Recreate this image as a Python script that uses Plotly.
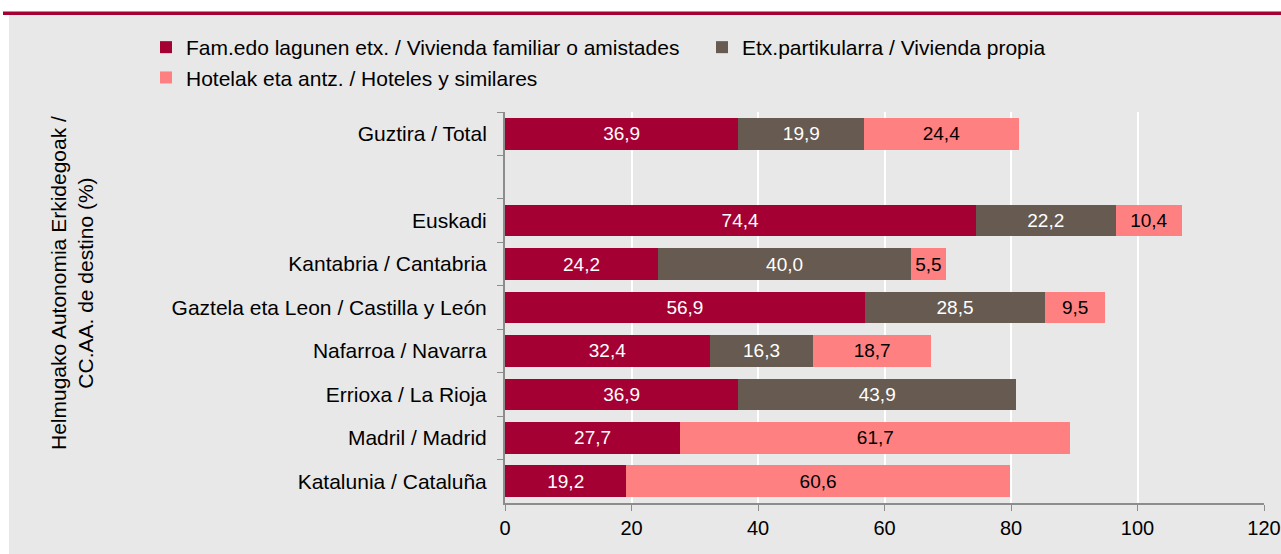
import plotly.graph_objects as go

categories = ["Guztira / Total", " ", "Euskadi", "Kantabria / Cantabria",
              "Gaztela eta Leon / Castilla y León", "Nafarroa / Navarra",
              "Errioxa / La Rioja", "Madril / Madrid", "Katalunia / Cataluña"]
familiar = [36.9, None, 74.4, 24.2, 56.9, 32.4, 36.9, 27.7, 19.2]
propia = [19.9, None, 22.2, 40.0, 28.5, 16.3, 43.9, None, None]
hoteles = [24.4, None, 10.4, 5.5, 9.5, 18.7, None, 61.7, 60.6]
x_ticks = [0, 20, 40, 60, 80, 100, 120]

FONT = "Liberation Sans, Arial, sans-serif"
W, H = 1281, 554
L, R, T, B = 505, 17, 112, 51
pw, ph = W - L - R, H - T - B


def px_x(p):
    return (p - L) / pw


def px_y(p):
    return (H - B - p) / ph


series = [
    ("Fam.edo lagunen etx. / Vivienda familiar o amistades", familiar, "#a50034", "white"),
    ("Etx.partikularra / Vivienda propia", propia, "#675a50", "white"),
    ("Hotelak eta antz. / Hoteles y similares", hoteles, "#ff8080", "black"),
]

fig = go.Figure()
for name, vals, col, tcol in series:
    fig.add_trace(go.Bar(
        y=categories, x=vals, name=name, orientation="h",
        marker=dict(color=col, line=dict(width=0)),
        texttemplate="%{x:.1f}", textposition="inside", insidetextanchor="middle",
        textfont=dict(color=tcol, size=19, family=FONT),
        constraintext="none", cliponaxis=False,
    ))

shapes = [
    dict(type="rect", xref="paper", yref="paper", layer="below",
         x0=px_x(9), x1=px_x(W + 5), y0=px_y(H + 5), y1=px_y(15),
         fillcolor="#e8e8e8", line=dict(width=0)),
    dict(type="rect", xref="paper", yref="paper", layer="below",
         x0=px_x(3), x1=px_x(W + 5), y0=px_y(15), y1=px_y(11.5),
         fillcolor="#a50034", line=dict(width=0)),
]

fig.update_layout(
    width=W, height=H,
    margin=dict(l=L, r=R, t=T, b=B, autoexpand=False),
    paper_bgcolor="white", plot_bgcolor="#e8e8e8",
    barmode="stack", bargap=0.27,
    separators=",.",
    font=dict(family=FONT, size=21, color="black"),
    shapes=shapes,
    legend=dict(orientation="h", x=px_x(146), xanchor="left",
                y=px_y(27), yanchor="top", traceorder="normal",
                entrywidth=511, entrywidthmode="pixels",
                font=dict(size=21), bgcolor="rgba(0,0,0,0)",
                itemwidth=30, tracegroupgap=0),
    annotations=[dict(
        text="Helmugako Autonomia Erkidegoak /<br>CC.AA. de destino (%)",
        xref="paper", yref="paper", x=px_x(72), y=px_y(283),
        textangle=-90, showarrow=False, font=dict(size=21),
        xanchor="center", yanchor="middle")],
    showlegend=True,
)
fig.update_xaxes(range=[0, 120], tickvals=x_ticks, showgrid=True,
                 gridcolor="white", gridwidth=1.5, zeroline=False,
                 showline=True, linecolor="#8c8c8c", linewidth=2,
                 ticks="outside", tickcolor="#8c8c8c", ticklen=6,
                 tickfont=dict(size=20), automargin=False,
                 ticklabeloverflow="allow")
fig.update_yaxes(categoryorder="array", categoryarray=categories,
                 autorange="reversed", showgrid=False,
                 showline=True, linecolor="#8c8c8c", linewidth=2,
                 ticks="outside", tickson="boundaries", tickcolor="#8c8c8c",
                 ticklen=6, ticklabelstandoff=12, tickfont=dict(size=21),
                 automargin=False)

fig.write_html("out.html", config={"displayModeBar": False},
               post_script="document.body.style.margin='0';")
